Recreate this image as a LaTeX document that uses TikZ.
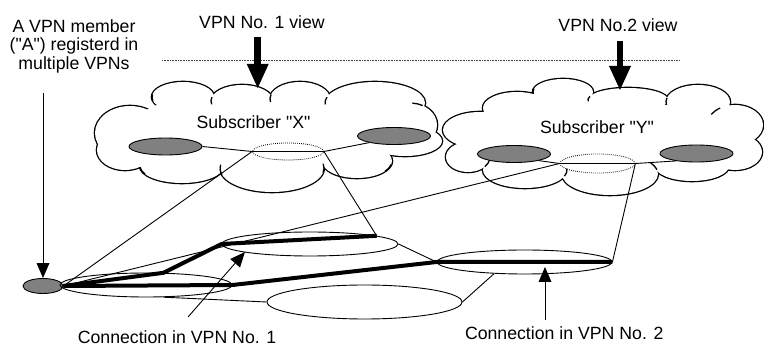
\documentclass[tikz,border=0pt]{standalone}
\usepackage{fontspec}
\setmainfont{Liberation Sans}[Ligatures=TeXOff]
\usetikzlibrary{arrows.meta,shapes.geometric}
\definecolor{shade}{RGB}{128,128,128}
\newcommand\crease[6]{\draw[line width=1.3pt] ({#1+#3*cos(#5)},{#2+#4*sin(#5)}) arc[start angle=#5, end angle=#6, x radius=#3, y radius=#4];}
\begin{document}
\begin{tikzpicture}[x=1pt,y=-1pt,
  txt/.style={font=\fontsize{17.7}{18.5}\selectfont, inner sep=0pt, outer sep=0pt},
  conn/.style={line width=0.9pt},
  thickc/.style={line width=4pt},
  greyell/.style={ellipse, draw, line width=0.9pt, fill=shade, inner sep=0pt, minimum width=73pt, minimum height=17pt},
  dotell/.style={ellipse, draw, line width=0.8pt, dash pattern=on 0.8pt off 1.2pt, inner sep=0pt, minimum width=71pt, minimum height=17pt},
  net/.style={ellipse, draw, line width=0.9pt, inner sep=0pt},
  bigarrow/.style={line width=6.6pt, -{Triangle[length=24pt,width=22pt,line width=0pt]}},
  smallarrow/.style={line width=0.9pt, -{Triangle[length=15pt,width=13pt,line width=0pt]}},
]
\useasboundingbox (0,0) rectangle (764,347);
\fill[white] (0,0) rectangle (764,347);

% ---- cloud X ----
\def\puffsX{183/97/31/15, 242/101/31/16, 300/99/30/17, 375/103/50/21, 410/125/27/22, 405/141/37/15, 130/133/35/27, 125/150/28/20, 182/166/42/17, 272/168/52/24, 357/161/35/17}
\foreach \cx/\cy/\rx/\ry in \puffsX
  \draw[line width=2.6pt] (\cx,\cy) ellipse [x radius=\rx, y radius=\ry];
\foreach \cx/\cy/\rx/\ry in \puffsX
  \fill[white] (\cx,\cy) ellipse [x radius=\rx, y radius=\ry];
\foreach \cx/\cy/\rx/\ry in {270/132/125/32, 190/120/50/20}
  \fill[white] (\cx,\cy) ellipse [x radius=\rx, y radius=\ry];
\crease{242}{101}{31}{16}{194}{168}
\crease{300}{99}{30}{17}{195}{170}
\crease{375}{103}{50}{21}{196}{176}
\crease{183}{97}{31}{15}{190}{166}
\crease{410}{125}{27}{22}{-62}{-85}
\crease{272}{168}{52}{24}{11}{-10}
\crease{272}{168}{52}{24}{164}{188}
\crease{182}{166}{42}{17}{152}{176}
\crease{357}{161}{35}{17}{37}{12}

% ---- cloud Y ----
\def\puffsY{480/130/37/18, 517/108/34/16, 563/92/30/13, 628/100/40/12, 698/102/32/17, 735/125/28/20, 735/152/27/18, 692/166/37/15, 610/174/48/21, 525/170/42/18, 468/157/22/15}
\foreach \cx/\cy/\rx/\ry in \puffsY
  \draw[line width=2.6pt] (\cx,\cy) ellipse [x radius=\rx, y radius=\ry];
\foreach \cx/\cy/\rx/\ry in \puffsY
  \fill[white] (\cx,\cy) ellipse [x radius=\rx, y radius=\ry];
\foreach \cx/\cy/\rx/\ry in {600/135/130/35, 520/150/40/15}
  \fill[white] (\cx,\cy) ellipse [x radius=\rx, y radius=\ry];
\crease{628}{100}{40}{12}{198}{174}
\crease{698}{102}{32}{17}{194}{170}
\crease{563}{92}{30}{13}{195}{172}
\crease{735}{125}{28}{20}{238}{212}
\crease{610}{174}{48}{21}{-12}{-32}
\crease{525}{170}{42}{18}{20}{-4}
\crease{468}{157}{22}{15}{40}{10}

% ---- texts ----
\node[txt, align=center, anchor=north] (mem) at (74,19.6) {A VPN member\\("A") registerd in\\multiple VPNs};
\node[txt, anchor=base] (v1) at (262,28.3) {VPN No. 1 view};
\node[txt, anchor=base] (v2) at (618,31.7) {VPN No.2 view};
\node[txt, anchor=base] (sx) at (253.5,129) {Subscriber "X"};
\node[txt, anchor=base] (sy) at (597,134) {Subscriber "Y"};
\node[txt, anchor=base] (c1) at (177,344) {Connection in VPN No. 1};
\node[txt, anchor=base west] (c2) at (465,340) {Connection in VPN No. 2};

% ---- dotted separator ----
\draw[line width=0.8pt, black!75, dash pattern=on 0.8pt off 0.8pt] (162,60) -- (680,60);

% ---- view arrows ----
\coordinate (v1s) at (257.7,37);
\coordinate (v1t) at (257.7,88);
\coordinate (v2s) at (620,41);
\coordinate (v2t) at (620,90);
\draw[bigarrow] (v1s) -- (v1t);
\draw[bigarrow] (v2s) -- (v2t);

% ---- subscriber sites ----
\node[greyell] (gx1) at (165.5,146.5) {};
\node[greyell] (gx2) at (394,136) {};
\node[dotell] (dx) at (288,151.5) {};
\node[greyell] (gy1) at (514,154) {};
\node[greyell] (gy2) at (696.5,153.5) {};
\node[dotell, minimum width=75pt, minimum height=19pt] (dy) at (597.5,163.5) {};

% ---- network ----
\node[greyell, minimum width=40pt, minimum height=15pt] (A) at (43,286) {};
\node[net, minimum width=172pt, minimum height=24pt] (E1) at (146,285) {};
\node[net, minimum width=176pt, minimum height=24pt] (E2) at (310,244) {};
\node[net, minimum width=195pt, minimum height=34pt] (E3) at (364.5,302) {};
\node[net, minimum width=175pt, minimum height=24pt] (E4) at (524.5,262) {};

% thin connections
\draw[conn] (gx1.east) -- (dx.west) -- (dx.east) -- (gx2.195);
\draw[conn] (gy1.-15) -- (dy.west) -- (dy.east) -- (gy2.200);
\draw[conn] (A.east) -- (dx.west);
\draw[conn] (A.east) -- (dy.west);
\draw[conn] (dx.east) -- (E2.7);
\draw[conn] (dy.east) -- (E4.east);
\draw[conn] (E2.east) -- (E4.west);
\draw[conn] (E1.-35) -- (E3.west);
\draw[conn] (E3.east) -- (E4.201);

% thick VPN connections
\draw[thickc] (A.east) -- (E1.35) -- (E2.west) -- (E2.7);
\draw[thickc] (A.east) -- (E1.east) -- (E4.west) -- (E4.east);

% ---- annotation arrows ----
\coordinate (mems) at (43,93);
\draw[smallarrow] (mems) -- (A.north);
\coordinate (c1s) at (188,317);
\coordinate (c1t) at (245,252);
\draw[smallarrow] (c1s) -- (c1t);
\coordinate (c2s) at (545,320);
\coordinate (c2t) at (545,267);
\draw[smallarrow] (c2s) -- (c2t);
\end{tikzpicture}
\end{document}
